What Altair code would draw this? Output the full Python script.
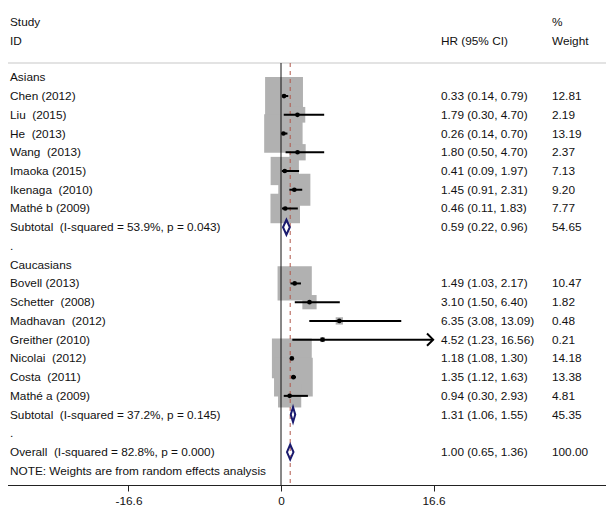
import altair as alt
import pandas as pd

# ---------------- data ----------------
group_names = ["Asians", "Caucasians"]

asian_studies = ["Chen (2012)", "Liu  (2015)", "He  (2013)", "Wang  (2013)",
                 "Imaoka (2015)", "Ikenaga  (2010)", "Mathé b (2009)"]
asian_hr = [0.33, 1.79, 0.26, 1.80, 0.41, 1.45, 0.46]
asian_lo = [0.14, 0.30, 0.14, 0.50, 0.09, 0.91, 0.11]
asian_hi = [0.79, 4.70, 0.70, 4.70, 1.97, 2.31, 1.83]
asian_w = [12.81, 2.19, 13.19, 2.37, 7.13, 9.20, 7.77]

cauc_studies = ["Bovell (2013)", "Schetter  (2008)", "Madhavan  (2012)", "Greither (2010)",
                "Nicolai  (2012)", "Costa  (2011)", "Mathé a (2009)"]
cauc_hr = [1.49, 3.10, 6.35, 4.52, 1.18, 1.35, 0.94]
cauc_lo = [1.03, 1.50, 3.08, 1.23, 1.08, 1.12, 0.30]
cauc_hi = [2.17, 6.40, 13.09, 16.56, 1.30, 1.63, 2.93]
cauc_w = [10.47, 1.82, 0.48, 0.21, 14.18, 13.38, 4.81]

subtotal_labels = ["Subtotal  (I-squared = 53.9%, p = 0.043)",
                   "Subtotal  (I-squared = 37.2%, p = 0.145)"]
subtotal_hr = [0.59, 1.31]
subtotal_lo = [0.22, 1.06]
subtotal_hi = [0.96, 1.55]
subtotal_w = [54.65, 45.35]

overall_label = "Overall  (I-squared = 82.8%, p = 0.000)"
overall_hr, overall_lo, overall_hi, overall_w = 1.00, 0.65, 1.36, 100.00

note_text = "NOTE: Weights are from random effects analysis"
header_left = ["Study", "ID"]
header_ci = "HR (95% CI)"
header_w = ["%", "Weight"]
tick_values = [-16.6, 0, 16.6]
axis_limit = 16.6


def fix(s):
    return s.replace("  ", " \u00a0")


# ---------------- tables ----------------
text_rows, study_rows, diamond_rows = [], [], []
r = 0
groups = [(asian_studies, asian_hr, asian_lo, asian_hi, asian_w),
          (cauc_studies, cauc_hr, cauc_lo, cauc_hi, cauc_w)]
for gi, (names, hr, lo, hi, w) in enumerate(groups):
    text_rows.append({"row": r, "label": group_names[gi], "ci": "", "wt": ""})
    r += 1
    for n, h, l, u, ww in zip(names, hr, lo, hi, w):
        text_rows.append({"row": r, "label": fix(n),
                          "ci": f"{h:.2f} ({l:.2f}, {u:.2f})", "wt": f"{ww:.2f}"})
        study_rows.append({"row": r, "hr": h, "lo": l, "hi": u, "w": ww})
        r += 1
    h, l, u, ww = subtotal_hr[gi], subtotal_lo[gi], subtotal_hi[gi], subtotal_w[gi]
    text_rows.append({"row": r, "label": fix(subtotal_labels[gi]),
                      "ci": f"{h:.2f} ({l:.2f}, {u:.2f})", "wt": f"{ww:.2f}"})
    diamond_rows.append({"row": r, "hr": h, "lo": l, "hi": u, "id": f"s{gi}"})
    r += 1
    text_rows.append({"row": r, "label": ".", "ci": "", "wt": ""})
    r += 1
text_rows.append({"row": r, "label": fix(overall_label),
                  "ci": f"{overall_hr:.2f} ({overall_lo:.2f}, {overall_hi:.2f})",
                  "wt": f"{overall_w:.2f}"})
diamond_rows.append({"row": r, "hr": overall_hr, "lo": overall_lo, "hi": overall_hi, "id": "ov"})
r += 1
text_rows.append({"row": r, "label": note_text, "ci": "", "wt": ""})

texts = pd.DataFrame(text_rows)
studies = pd.DataFrame(study_rows)

HALF = 0.4  # diamond half-height in row units (style)
dv = []
for d in diamond_rows:
    dv.append({"id": d["id"], "x": d["lo"], "top": d["row"], "bot": d["row"]})
    dv.append({"id": d["id"], "x": d["hr"], "top": d["row"] - HALF, "bot": d["row"] + HALF})
    dv.append({"id": d["id"], "x": d["hi"], "top": d["row"], "bot": d["row"]})
diamonds = pd.DataFrame(dv)

# ---------------- scales ----------------
FONT = "Liberation Sans"
FS = 11.8
xscale = alt.Scale(domain=[-30.587, 36.247], nice=False, zero=False)
yscale = alt.Scale(domain=[-4.125, 21.756], nice=False, zero=False, reverse=True)
xaxis = alt.Axis(values=tick_values, grid=False, domainColor="#222222", domainWidth=1,
                 tickColor="#222222", tickSize=6, labelFont=FONT, labelFontSize=FS,
                 labelColor="#111111", labelPadding=4, labelFlush=False,
                 labelExpr="datum.value < 0 ? '-' + format(-datum.value, '.1f') : "
                           "(datum.value == 0 ? '0' : format(datum.value, '.1f'))")


def X(field):
    return alt.X(field, type="quantitative", scale=xscale, axis=xaxis, title=None)


def Y(field):
    return alt.Y(field, type="quantitative", scale=yscale, axis=None, title=None)


top_line = alt.Chart(pd.DataFrame({"k": [0]})).mark_rule(color="#c8c8c8", strokeWidth=1.2).encode(
    x=alt.value(0), x2=alt.value(614), y=alt.value(63))

null_line = alt.Chart(pd.DataFrame({"x": [0.0]})).mark_rule(color="#111111", strokeWidth=1).encode(
    x=X("x"), y=alt.value(63), y2=alt.value(485))

eff_line = alt.Chart(pd.DataFrame({"x": [overall_hr]})).mark_rule(
    color="#b0584a", strokeWidth=1, strokeDash=[4, 4]).encode(
    x=X("x"), y=alt.value(63), y2=alt.value(485))

boxes = alt.Chart(studies).mark_square(color="#b1b1b1", opacity=1).encode(
    x=X("hr"), y=Y("row"),
    size=alt.Size("w:Q", scale=alt.Scale(domain=[0, 100], range=[0, 11200]), legend=None))

ci = alt.Chart(studies).mark_rule(color="#000000", strokeWidth=2).encode(
    x=X("lo"), x2="hi", y=Y("row"))

dots = alt.Chart(studies).mark_circle(color="#000000", size=22, opacity=1).encode(
    x=X("hr"), y=Y("row"))

arrows = alt.Chart(studies).transform_filter(
    f"datum.hi >= {axis_limit} - 0.1").mark_point(
    shape="M -1 -1 L 0 0 L -1 1", filled=False, color="#000000", strokeWidth=2,
    size=150, opacity=1).encode(x=X("hi"), y=Y("row"))

dia = alt.Chart(diamonds).mark_area(
    stroke="#1a1a6e", strokeWidth=2, fillOpacity=0, interpolate="linear").encode(
    x=X("x"), y=Y("top"), y2="bot", detail="id:N")

tstyle = dict(align="left", baseline="middle", font=FONT, fontSize=FS, color="#111111")
lab = alt.Chart(texts).mark_text(**tstyle).encode(x=alt.value(10), y=Y("row"), text="label:N")
cis = alt.Chart(texts).mark_text(**tstyle).encode(x=alt.value(441), y=Y("row"), text="ci:N")
wts = alt.Chart(texts).mark_text(**tstyle).encode(x=alt.value(552), y=Y("row"), text="wt:N")

hdr = pd.DataFrame({"k": [0]})
h1 = alt.Chart(hdr).mark_text(text=header_left[0], **tstyle).encode(x=alt.value(10), y=alt.value(22))
h2 = alt.Chart(hdr).mark_text(text=header_left[1], **tstyle).encode(x=alt.value(10), y=alt.value(41))
h3 = alt.Chart(hdr).mark_text(text=header_ci, **tstyle).encode(x=alt.value(441), y=alt.value(41))
h4 = alt.Chart(hdr).mark_text(text=header_w[0], **tstyle).encode(x=alt.value(552), y=alt.value(22))
h5 = alt.Chart(hdr).mark_text(text=header_w[1], **tstyle).encode(x=alt.value(552), y=alt.value(41))

chart = alt.layer(
    top_line, boxes, null_line, eff_line, ci, dots, arrows, dia,
    lab, cis, wts, h1, h2, h3, h4, h5
).properties(
    width=614, height=485,
    padding={"left": -8, "top": -8, "right": -8, "bottom": 21},
    autosize="none",
    background="white",
).configure_view(strokeWidth=0)

chart.save("out.html", embed_options={"renderer": "svg", "actions": False})
